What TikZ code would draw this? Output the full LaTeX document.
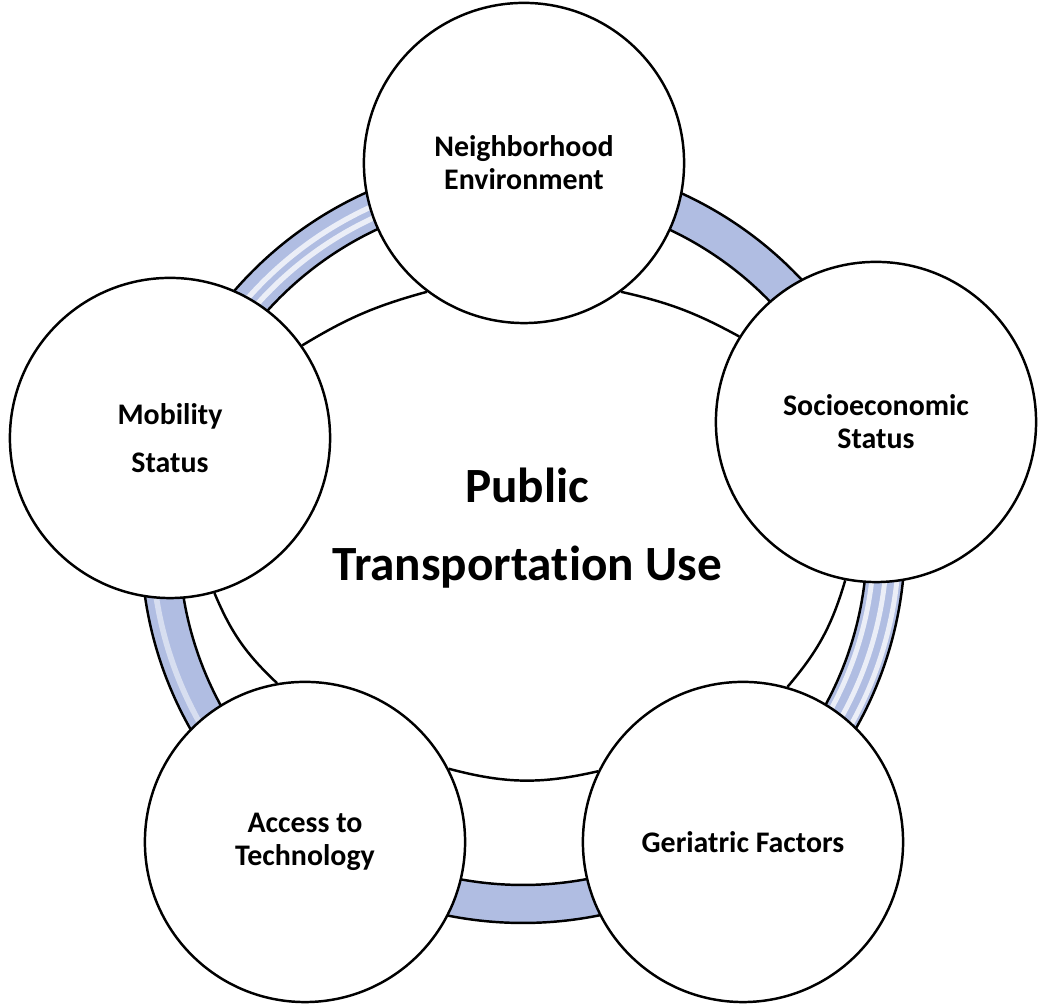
\documentclass[tikz,border=0pt]{standalone}
\usepackage{fontspec}
\setmainfont{Carlito}[Ligatures=NoCommon]
\definecolor{ringblue}{RGB}{176,189,226}

\begin{document}
\begin{tikzpicture}[x=0.01cm, y=0.01cm,
  factor/.style={circle, draw, line width=0.7pt, fill=white, minimum size=3.2cm, inner sep=0pt, align=center, font=\fontsize{8.5}{9.4}\selectfont\bfseries},
  edge/.style={line width=0.7pt},
  shine/.style={white, line width=#1, opacity=0.75}]
\useasboundingbox (0,0) rectangle (1050,1007);
\coordinate (C) at (523,466);
% ring behind the factors
\fill[ringblue, even odd rule] (C) circle (382) (C) circle (344);
\draw[shine=1.5pt] (C) ++(95:356) arc[start angle=95, end angle=160, radius=356];
\draw[shine=1.5pt] (C) ++(95:367) arc[start angle=95, end angle=160, radius=367];
\draw[shine=1.4pt] (C) ++(-55:351) arc[start angle=-55, end angle=15, radius=351];
\draw[shine=1.4pt] (C) ++(-55:364) arc[start angle=-55, end angle=15, radius=364];
\draw[shine=1.4pt] (C) ++(-55:376) arc[start angle=-55, end angle=15, radius=376];
\draw[shine=1.6pt, opacity=0.5] (C) ++(165:371) arc[start angle=165, end angle=232, radius=371];
\draw[edge] (C) circle (382);
\draw[edge] (C) circle (344);
% factors
\node[factor] (top) at (524,844) {Neighborhood\\Environment};
\node[factor, font=\fontsize{8.5}{13.7}\selectfont\bfseries] (left) at (170,569) {Mobility\\Status};
\node[factor] (right) at (876,585) {Socioeconomic\\Status};
\node[factor] (botleft) at (305,165) {Access to\\Technology};
\node[factor] (botright) at (743,165) {Geriatric Factors};
% inner outline
\draw[edge] (top.233) to[bend right=8] (left.35);
\draw[edge] (left.286) to[bend right=12] (botleft.100);
\draw[edge] (botleft.27) to[bend right=14] (botright.154);
\draw[edge] (botright.74) to[bend right=12] (right.259);
\draw[edge] (right.148) to[bend right=8] (top.307);
% centre
\node[align=center, font=\fontsize{14}{22}\selectfont\bfseries] (use) at (527,479) {Public\\Transportat\kern0.01em ion Use};
\end{tikzpicture}
\end{document}
